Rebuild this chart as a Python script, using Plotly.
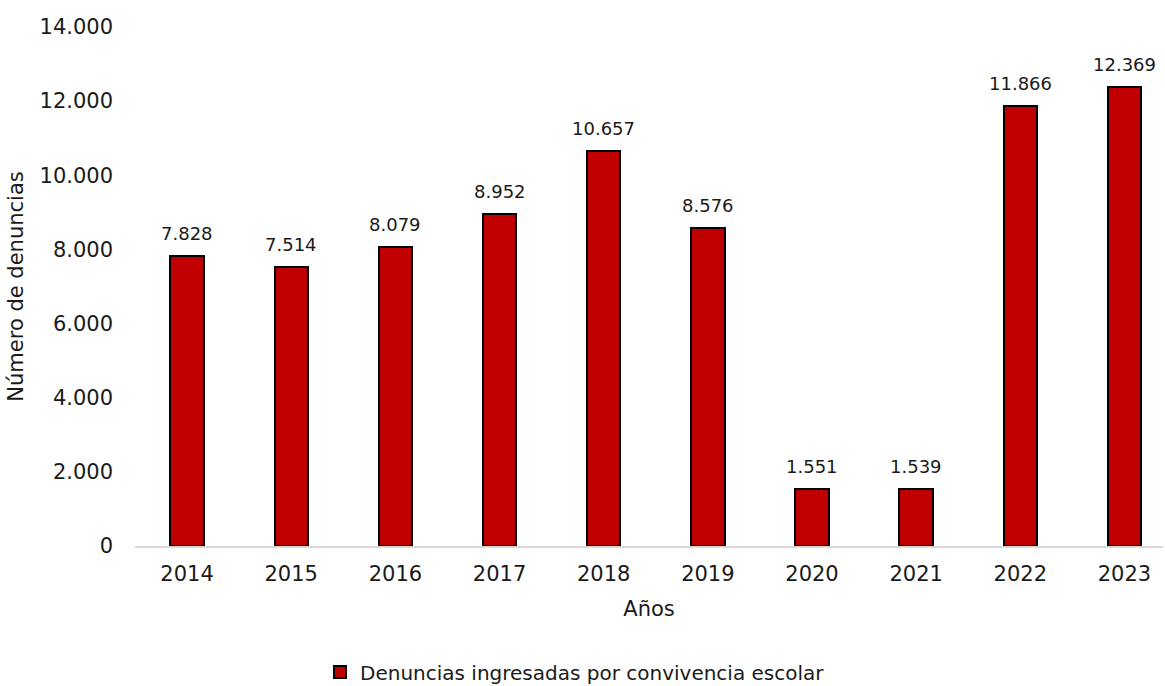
import plotly.graph_objects as go

years = ["2014", "2015", "2016", "2017", "2018", "2019", "2020", "2021", "2022", "2023"]
denuncias = [7828, 7514, 8079, 8952, 10657, 8576, 1551, 1539, 11866, 12369]
series_name = "Denuncias ingresadas por convivencia escolar"
y_ticks = [0, 2000, 4000, 6000, 8000, 10000, 12000, 14000]

FONT = "Verdana, DejaVu Sans, sans-serif"

fig = go.Figure()
fig.add_trace(go.Bar(
    x=years,
    y=denuncias,
    name=series_name,
    marker=dict(color="#C00000", line=dict(color="#000000", width=2)),
    width=0.32,
    cliponaxis=False,
    hoverinfo="skip",
))

for i, v in enumerate(denuncias):
    fig.add_annotation(
        x=i, y=v, xref="x", yref="y",
        text=f"{v:,}".replace(",", "."),
        showarrow=False, yanchor="bottom", yshift=10,
        font=dict(family=FONT, size=18, color="#1a1a1a"),
    )

fig.update_layout(
    width=1165, height=686,
    separators=",.",
    paper_bgcolor="white", plot_bgcolor="white",
    margin=dict(l=135, r=2, t=27, b=140, autoexpand=False),
    font=dict(family=FONT, color="#1a1a1a"),
    showlegend=True,
    legend=dict(orientation="h", x=320 / 1165, xanchor="left", xref="container",
                y=1 - 672 / 686, yanchor="middle", yref="container",
                font=dict(size=20, family=FONT), itemwidth=30,
                itemsizing="constant"),
    bargap=0,
)
fig.update_xaxes(
    type="category",
    range=[-0.5, 9.37],
    automargin=False,
    showline=True, linecolor="#d9d9d9", linewidth=2,
    showgrid=False, ticks="",
    tickfont=dict(size=21, family=FONT),
    ticklabelstandoff=8,
    title=dict(text="Años", font=dict(size=21, family=FONT), standoff=16),
)
fig.update_yaxes(
    range=[0, 14000],
    tickvals=y_ticks,
    tickformat=",d",
    automargin=True,
    showgrid=False, zeroline=False, showline=False,
    tickfont=dict(size=21, family=FONT),
    ticklabelstandoff=21,
    title=dict(text="Número de denuncias", font=dict(size=21, family=FONT), standoff=10),
)

fig.write_html("out.html", config={"displayModeBar": False},
               post_script="document.body.style.margin='0';")
